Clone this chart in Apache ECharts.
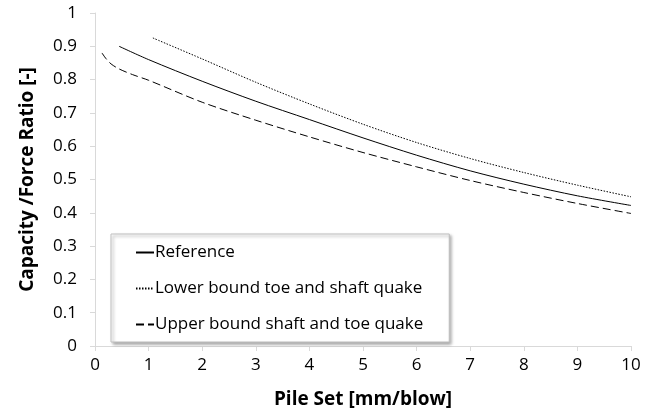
<!DOCTYPE html>
<html><head><meta charset="utf-8">
<script src="https://cdn.jsdelivr.net/npm/echarts@6/dist/echarts.min.js"></script>
<style>html,body{margin:0;padding:0;background:#fff}#c{width:656px;height:414px}</style>
</head><body><div id="c"></div>
<script>
var seriesNames = ['Reference', 'Lower bound toe and shaft quake', 'Upper bound shaft and toe quake'];
var xTicks = [0,1,2,3,4,5,6,7,8,9,10];
var yTicks = [0,0.1,0.2,0.3,0.4,0.5,0.6,0.7,0.8,0.9,1];
var refX = [0.45, 1, 2, 3, 4, 5, 6, 7, 8, 9, 10];
var refY = [0.90, 0.860, 0.795, 0.735, 0.680, 0.625, 0.573, 0.526, 0.486, 0.451, 0.422];
var lowX = [1.08, 2, 3, 4, 5, 6, 7, 8, 9, 10];
var lowY = [0.925, 0.862, 0.792, 0.727, 0.666, 0.611, 0.563, 0.521, 0.483, 0.448];
var upX = [0.13, 0.2, 0.3, 0.45, 0.7, 1, 2, 3, 4, 5, 6, 7, 8, 9, 10];
var upY = [0.880, 0.864, 0.847, 0.832, 0.815, 0.798, 0.732, 0.678, 0.628, 0.581, 0.538, 0.497, 0.461, 0.428, 0.398];

function pairs(xs, ys){ return xs.map(function(x,i){ return [x, ys[i]]; }); }

var font = '"Open Sans", Lato, sans-serif';
var chart = echarts.init(document.getElementById('c'), null, {renderer:'canvas'});
chart.setOption({
  animation: false,
  backgroundColor: '#fff',
  grid: {left: 95, right: 25, top: 13, bottom: 67, containLabel: false},
  legend: {
    orient: 'vertical', left: 111, top: 234,
    padding: [10, 26, 9, 24],
    itemWidth: 18, itemHeight: 14, itemGap: 19,
    backgroundColor: '#fff',
    borderColor: '#bfbfbf', borderWidth: 1,
    shadowColor: 'rgba(0,0,0,0.35)', shadowBlur: 3, shadowOffsetX: 2, shadowOffsetY: 2,
    itemStyle: {opacity: 0},
    textStyle: {fontFamily: font, fontSize: 17, color: '#000', lineHeight: 14, padding: [0,0,0,-4]},
    data: seriesNames
  },
  xAxis: {
    type: 'value', min: 0, max: 10, interval: 1,
    name: 'Pile Set [mm/blow]', nameLocation: 'middle', nameGap: 44,
    nameTextStyle: {fontFamily: font, fontSize: 19, fontWeight: 'bold', color: '#000'},
    axisLine: {show: true, lineStyle: {color: '#d9d9d9', width: 1}},
    axisTick: {show: true, inside: false, length: 5, lineStyle: {color: '#d9d9d9'}},
    axisLabel: {fontFamily: font, fontSize: 17, color: '#000', margin: 11,
      formatter: function(v){ return xTicks.indexOf(v) >= 0 ? String(v) : ''; }},
    splitLine: {show: false}
  },
  yAxis: {
    type: 'value', min: 0, max: 1, interval: 0.1,
    name: 'Capacity /Force Ratio [-]', nameLocation: 'middle', nameGap: 58, nameRotate: 90,
    nameTextStyle: {fontFamily: font, fontSize: 19, fontWeight: 'bold', color: '#000'},
    axisLine: {show: true, lineStyle: {color: '#d9d9d9', width: 1}},
    axisTick: {show: true, inside: false, length: 5, lineStyle: {color: '#d9d9d9'}},
    axisLabel: {fontFamily: font, fontSize: 17, color: '#000', margin: 18,
      formatter: function(v){ var r = Math.round(v*10)/10; return yTicks.indexOf(r) >= 0 ? String(r) : ''; }},
    splitLine: {show: false}
  },
  series: [
    {name: seriesNames[0], type: 'line', smooth: 0.3, symbol: 'none', data: pairs(refX, refY),
     lineStyle: {color: '#000', width: 1, type: 'solid'}, itemStyle: {color: '#000'}},
    {name: seriesNames[1], type: 'line', smooth: 0.3, symbol: 'none', data: pairs(lowX, lowY),
     lineStyle: {color: '#000', width: 1, type: [1.5, 1.5]}, itemStyle: {color: '#000'}},
    {name: seriesNames[2], type: 'line', smooth: 0.3, symbol: 'none', data: pairs(upX, upY),
     lineStyle: {color: '#000', width: 1, type: [8, 4]}, itemStyle: {color: '#000'}}
  ]
});
</script></body></html>
